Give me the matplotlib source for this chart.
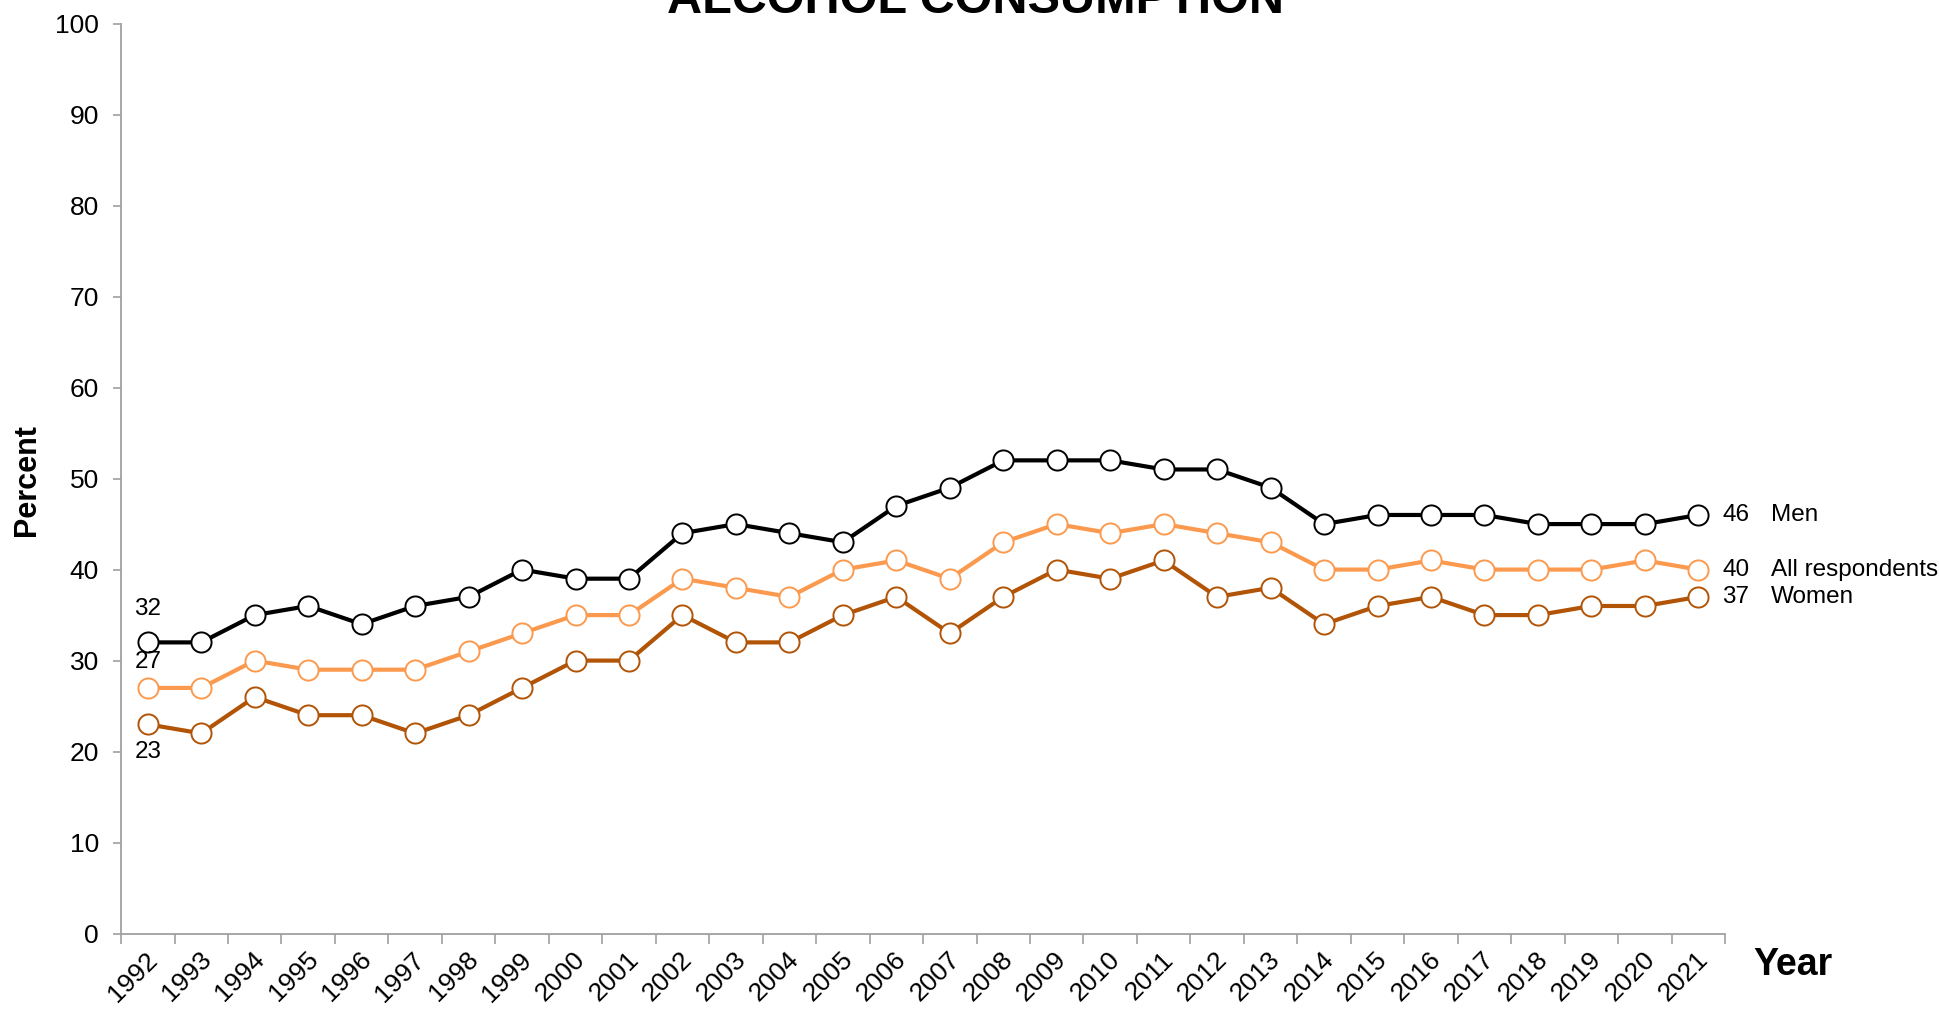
import matplotlib
matplotlib.use("Agg")
from matplotlib import pyplot as plt
from matplotlib.ticker import FixedLocator
import numpy as np

years = [str(y) for y in range(1992, 2022)]
men = [32, 32, 35, 36, 34, 36, 37, 40, 39, 39, 44, 45, 44, 43, 47, 49, 52, 52, 52, 51,
       51, 49, 45, 46, 46, 46, 45, 45, 45, 46]
all_resp = [27, 27, 30, 29, 29, 29, 31, 33, 35, 35, 39, 38, 37, 40, 41, 39, 43, 45, 44, 45,
            44, 43, 40, 40, 41, 40, 40, 40, 41, 40]
women = [23, 22, 26, 24, 24, 22, 24, 27, 30, 30, 35, 32, 32, 35, 37, 33, 37, 40, 39, 41,
         37, 38, 34, 36, 37, 35, 35, 36, 36, 37]

plt.rcParams['font.family'] = ['Liberation Sans', 'DejaVu Sans']
narrow = ['Liberation Sans Narrow', 'Liberation Sans', 'DejaVu Sans']

fig = plt.figure(figsize=(19.4, 10.09), dpi=100)
ax = fig.add_axes([0.0624, 0.0747, 0.8268, 0.902])

x = np.arange(len(years))
series = [
    (men, 'Men', '#000000', 24),
    (all_resp, 'All respondents', '#FB9A4E', 19),
    (women, 'Women', '#B25406', -20),
]
for vals, name, col, dy in series:
    ax.plot(x, vals, color=col, lw=3.0, marker='o', ms=14.5,
            mfc='white', mec=col, mew=1.4, zorder=3, clip_on=False)
    # first-year value label
    ax.annotate(str(vals[0]), (x[0], vals[0]), xytext=(0, dy), textcoords='offset points',
                ha='center', va='center', fontsize=17.5, annotation_clip=False)
    # last-year value + series name
    ax.annotate(str(vals[-1]), (x[-1], vals[-1]), xytext=(27, 0), textcoords='offset points',
                ha='center', va='center', fontsize=17.5, annotation_clip=False)
    ax.annotate(name, (x[-1], vals[-1]), xytext=(52, 0), textcoords='offset points',
                ha='left', va='center', fontsize=17.5, annotation_clip=False)

ax.set_xlim(-0.5, len(years) - 0.5)
ax.set_ylim(0, 100)
ax.set_yticks(range(0, 101, 10))
ax.set_xticks(x + 0.27)
ax.set_xticklabels(years, rotation=45, ha='right', va='top', fontsize=19)
ax.xaxis.set_minor_locator(FixedLocator(np.arange(-0.5, len(years), 1)))
ax.tick_params(axis='x', which='major', length=0, pad=10)
ax.tick_params(axis='x', which='minor', length=7, width=1.2, color='#A0A0A0')
ax.tick_params(axis='y', length=6, width=1.2, color='#A0A0A0', labelsize=19, pad=10)

for s in ['top', 'right']:
    ax.spines[s].set_visible(False)
for s in ['left', 'bottom']:
    ax.spines[s].set_color('#A0A0A0')
    ax.spines[s].set_linewidth(1.3)

fig.text(0.014, 0.524, 'Percent', rotation=90, ha='center', va='center',
         fontsize=22, fontweight='bold')
fig.text(0.924, 0.044, 'Year', ha='center', va='center', fontsize=27,
         fontweight='bold', family=narrow)
fig.text(0.5026, 0.987, 'ALCOHOL CONSUMPTION', ha='center', va='baseline',
         fontsize=35, fontweight='bold', family=narrow)

fig.savefig('out.png', dpi=100)
